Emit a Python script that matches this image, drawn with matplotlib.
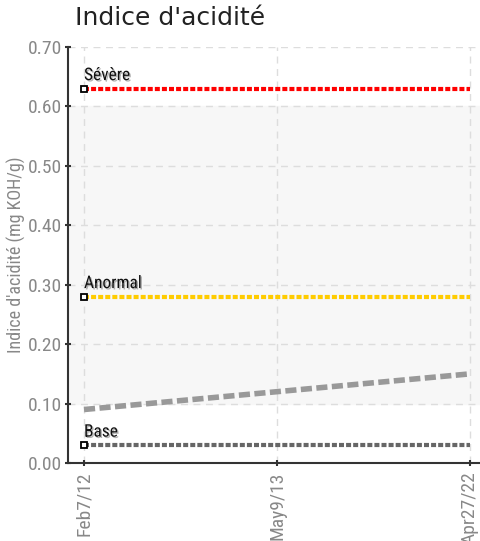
import matplotlib
matplotlib.use("Agg")
import matplotlib.pyplot as plt
import matplotlib.patheffects as pe
from matplotlib import font_manager

dates = ["Feb7/12", "May9/13", "Apr27/22"]
trend = [0.09, 0.12, 0.15]
threshold_names = ["Sévère", "Anormal", "Base"]
threshold_values = [0.63, 0.28, 0.03]
threshold_colors = ["#ff0000", "#ffcc00", "#666666"]
yticks = [0.0, 0.1, 0.2, 0.3, 0.4, 0.5, 0.6, 0.7]

names = sorted({f.name for f in font_manager.fontManager.ttflist})
cond = "Roboto"
for cand in ["Roboto Condensed", "Liberation Sans Narrow", "Open Sans Condensed", "DejaVu Sans Condensed"]:
    if cand in names:
        cond = cand
        break

fig = plt.figure(figsize=(4.8, 5.41), dpi=100)
ax = fig.add_axes([68/480, 1-463/541, 1-68/480, (463-47)/541])

x = list(range(len(dates)))
ax.axhspan(0.1, 0.6, color="#f7f7f7", zorder=0)

for name, val, col in zip(threshold_names, threshold_values, threshold_colors):
    ax.plot([x[0], x[-1]], [val, val], color=col, lw=3, ls=(0, (1.2, 0.5)),
            solid_capstyle="butt", dash_capstyle="butt", zorder=3)
    ax.plot([x[0]], [val], marker="s", ms=5, mfc="white", mec="black", mew=1.3, zorder=4)
    ax.annotate(name, (x[0], val), xytext=(0, 4), textcoords="offset points",
                fontsize=12.5, family=cond, color="#111111", ha="left", va="bottom",
                path_effects=[pe.withSimplePatchShadow(offset=(1, -1), alpha=0.3)], zorder=5)

ax.plot(x, trend, color="#999999", lw=4, ls=(0, (2.0, 0.8)), zorder=3)

ax.set_xlim(-16/193, (480-84)/193)
ax.set_ylim(0, 0.70)
ax.set_xticks(x)
ax.set_xticklabels(dates, rotation=90, family=cond, fontsize=14, color="#888888")
ax.set_yticks(yticks)
ax.set_yticklabels([f"{v:.2f}" for v in yticks], family=cond, fontsize=14, color="#888888")
ax.grid(True, color="#dddddd", ls=(0, (5, 4)), lw=1)
ax.set_axisbelow(True)
for s in ["top", "right"]:
    ax.spines[s].set_visible(False)
ax.spines["left"].set_color("#333333")
ax.spines["bottom"].set_color("#333333")
ax.spines["left"].set_linewidth(1.5)
ax.spines["bottom"].set_linewidth(1.5)
ax.tick_params(axis="both", length=5, width=1.5, color="#333333", direction="inout")
ax.tick_params(axis="y", pad=2)
ax.set_ylabel("Indice d'acidité (mg KOH/g)", family=cond, fontsize=13, color="#888888", labelpad=1)
ax.set_facecolor("white")

fig.text(75/480, 1-18/541, "Indice d'acidité", fontsize=18, color="#222222",
         ha="left", va="center", family="DejaVu Sans")

fig.savefig("out.png", dpi=100)
